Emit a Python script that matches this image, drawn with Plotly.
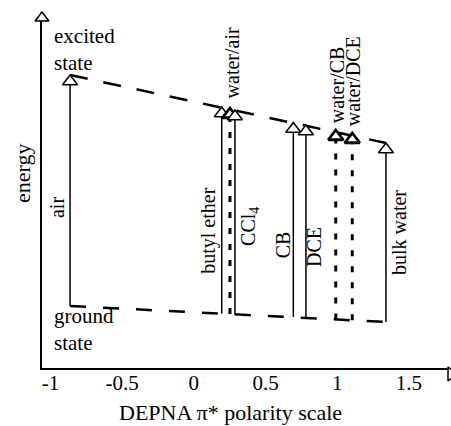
import plotly.graph_objects as go

# ---- data ----
solvents = ["air", "butyl ether", "water/air", "CCl<sub>4</sub>", "CB", "DCE",
            "water/CB", "water/DCE", "bulk water"]
pi_star = [-0.863, 0.195, 0.252, 0.287, 0.694, 0.782, 0.99, 1.105, 1.34]
ground = [0.62, 0.545, 0.54, 0.535, 0.51, 0.50, 0.485, 0.477, 0.46]
excited = [2.93, 2.61, 2.60, 2.58, 2.455, 2.43, 2.38, 2.35, 2.25]
interface = [False, False, True, False, False, False, True, True, False]
x_ticks = [-1, -0.5, 0, 0.5, 1, 1.5]
x_tick_labels = ["-1", "-0.5", "0", "0.5", "1", "1.5"]

# ---- styles / label placement ----
SERIF = "Liberation Serif, Times New Roman, serif"
XMIN, XMAX = -1.0586, 1.7936
YMIN, YMAX = 0.0, 3.56
# (xshift px, y in energy units, yanchor) for each solvent label
label_pos = [(-13, 1.60, "middle"), (-14, 1.37, "middle"), (2, 2.68, "bottom"),
             (14, 1.42, "middle"), (-10, 1.23, "middle"), (8, 1.21, "middle"),
             (1, 2.43, "bottom"), (1, 2.40, "bottom"), (13, 1.36, "middle")]

fig = go.Figure()

# ground-state and excited-state dashed connecting lines (first to last solvent)
fig.add_trace(go.Scatter(x=[pi_star[0], pi_star[-1]], y=[ground[0], ground[-1]],
                         mode="lines", line=dict(color="black", width=2.5, dash="16px,17px"),
                         hoverinfo="skip"))
fig.add_trace(go.Scatter(x=[pi_star[0], pi_star[-1]], y=[excited[0], excited[-1]],
                         mode="lines", line=dict(color="black", width=2.5, dash="18px,16px"),
                         hoverinfo="skip"))

# vertical transitions
for i in range(len(solvents)):
    if interface[i]:
        ln = dict(color="black", width=3, dash="6px,10px")
    else:
        ln = dict(color="black", width=1.5)
    fig.add_trace(go.Scatter(x=[pi_star[i], pi_star[i]], y=[ground[i], excited[i]],
                             mode="lines", line=ln, hoverinfo="skip"))

# arrowheads at the excited state
for i in range(len(solvents)):
    fig.add_trace(go.Scatter(
        x=[pi_star[i]], y=[excited[i]], mode="markers", cliponaxis=False,
        marker=dict(symbol="triangle-up", size=13, color="white", standoff=6.5,
                    line=dict(color="black", width=2.8 if interface[i] else 1.5)),
        hoverinfo="skip"))

# axis arrowheads
fig.add_trace(go.Scatter(x=[XMIN], y=[YMAX], mode="markers", cliponaxis=False,
                         marker=dict(symbol="triangle-up", size=12, color="white", standoff=6,
                                     line=dict(color="black", width=1.5)), hoverinfo="skip"))
fig.add_trace(go.Scatter(x=[XMAX], y=[YMIN], mode="markers", cliponaxis=False,
                         marker=dict(symbol="triangle-right", size=12, color="white", standoff=6,
                                     line=dict(color="black", width=1.5)), hoverinfo="skip"))

annotations = []
for i, name in enumerate(solvents):
    xs, yy, ya = label_pos[i]
    annotations.append(dict(x=pi_star[i], y=yy, xref="x", yref="y", text=name,
                            textangle=-90, showarrow=False, xshift=xs, yanchor=ya,
                            xanchor="center",
                            font=dict(family=SERIF, size=20, color="black")))

annotations += [
    dict(x=-0.99, y=3.46, xref="x", yref="y", text="excited<br>state", showarrow=False,
         xanchor="left", yanchor="top", align="left",
         font=dict(family=SERIF, size=21, color="black")),
    dict(x=-0.99, y=0.66, xref="x", yref="y", text="ground<br>state", showarrow=False,
         xanchor="left", yanchor="top", align="left",
         font=dict(family=SERIF, size=21, color="black")),
    dict(x=0, y=0.545, xref="paper", yref="paper", xshift=-19, text="energy", textangle=-90,
         xanchor="center", yanchor="middle",
         showarrow=False, font=dict(family=SERIF, size=22, color="black")),
    dict(x=0.461, y=0, xref="paper", yref="paper", yshift=-44, text="DEPNA π* polarity scale",
         xanchor="center", yanchor="middle",
         showarrow=False, font=dict(family=SERIF, size=22, color="black")),
]

fig.update_layout(
    width=451, height=426, margin=dict(l=42, r=0, t=12, b=58),
    plot_bgcolor="white", paper_bgcolor="white", showlegend=False,
    annotations=annotations,
    xaxis=dict(range=[XMIN, XMAX], tickvals=x_ticks, ticktext=x_tick_labels,
               showgrid=False, zeroline=False, showline=True, linecolor="black",
               linewidth=1.5, ticks="", layer="below traces", ticklabelstandoff=-5,
               tickfont=dict(family=SERIF, size=21, color="black")),
    yaxis=dict(range=[YMIN, YMAX], showticklabels=False, showgrid=False,
               zeroline=False, showline=True, linecolor="black", linewidth=1.5,
               ticks="", layer="below traces"),
)

fig.write_html("out.html")
